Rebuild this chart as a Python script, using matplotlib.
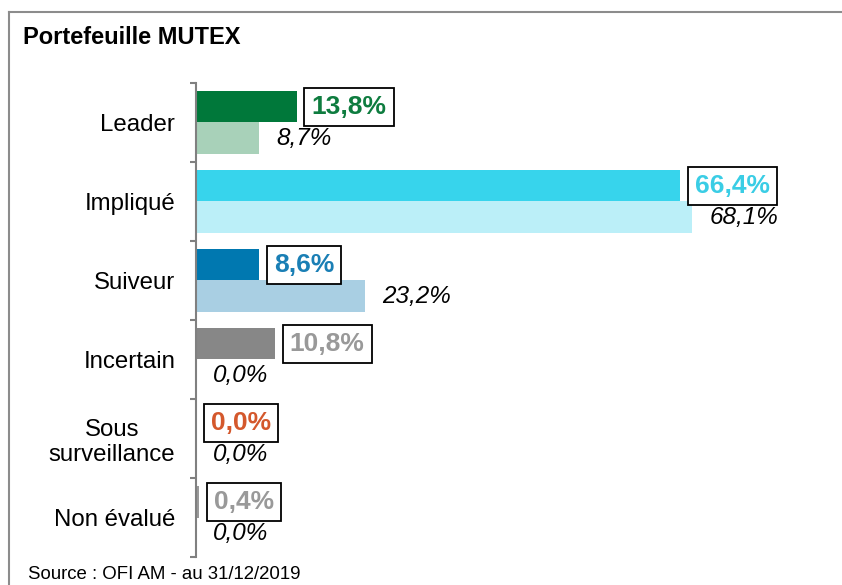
import matplotlib.pyplot as plt
from matplotlib import transforms
from matplotlib.lines import Line2D

categories = ["Leader", "Impliqué", "Suiveur", "Incertain", "Sous\nsurveillance", "Non évalué"]
portfolio = [13.8, 66.4, 8.6, 10.8, 0.0, 0.4]
benchmark = [8.7, 68.1, 23.2, 0.0, 0.0, 0.0]

dark_colors = ["#00783A", "#37D4EC", "#0078B0", "#878787", "#D4582C", "#999999"]
light_colors = ["#A8D1B9", "#BBEFF8", "#A9CFE3", "#D0D0D0", "#F0C0B0", "#D0D0D0"]
label_colors = ["#0E7C3F", "#3ACDE5", "#1A7FB5", "#999999", "#D4582C", "#999999"]

title = "Portefeuille MUTEX"
source = "Source : OFI AM - au 31/12/2019"


def fmt(v):
    return f"{v:.1f}".replace(".", ",") + "%"


def main():
    plt.rcParams["font.family"] = ["Liberation Sans", "DejaVu Sans"]
    W, H = 842, 585
    fig = plt.figure(figsize=(W / 100, H / 100), dpi=100)
    ax = fig.add_axes([196 / W, 28 / H, (W - 196) / W, 474 / H])

    n = len(categories)
    pos_dark = [i + 0.3 for i in range(n)]
    pos_light = [i + 0.7 for i in range(n)]

    ax.barh(pos_dark, portfolio, height=0.4, color=dark_colors, linewidth=0)
    ax.barh(pos_light, benchmark, height=0.4, color=light_colors, linewidth=0)

    ax.set_xlim(0, (W - 196) / 7.29)
    ax.set_ylim(n, 0)

    # boxed bold labels for the portfolio, italic labels for the benchmark
    off_dark = transforms.offset_copy(ax.transData, fig, x=15, y=0, units="dots")
    off_light = transforms.offset_copy(ax.transData, fig, x=17, y=0, units="dots")
    for y, v, c in zip(pos_dark, portfolio, label_colors):
        ax.text(v, y, fmt(v), transform=off_dark, ha="left", va="center",
                fontsize=19, fontweight="bold", color=c,
                bbox=dict(boxstyle="square,pad=0.27", fc="white", ec="black", lw=1.3))
    for y, v in zip(pos_light, benchmark):
        ax.text(v, y, fmt(v), transform=off_light, ha="left", va="center",
                fontsize=17.5, fontstyle="italic", color="black")

    for s in ["top", "right", "bottom"]:
        ax.spines[s].set_visible(False)
    ax.spines["left"].set_color("#808080")
    ax.spines["left"].set_linewidth(1.5)
    ax.set_xticks([])
    ax.set_yticks(range(n + 1))
    ax.set_yticklabels([])
    ax.tick_params(axis="y", which="major", length=4.5, width=1.5, color="#808080")
    ax.set_yticks([i + 0.5 for i in range(n)], minor=True)
    ax.set_yticklabels(categories, minor=True, fontsize=17.3)
    ax.tick_params(axis="y", which="minor", length=0, pad=15)
    for lab in ax.get_yticklabels(minor=True):
        lab.set_multialignment("center")

    # frame around the panel
    fig.add_artist(Line2D([9 / W, 1], [(H - 12) / H] * 2, transform=fig.transFigure,
                          color="#8C8C8C", lw=1.5))
    fig.add_artist(Line2D([9 / W] * 2, [0, (H - 12) / H], transform=fig.transFigure,
                          color="#8C8C8C", lw=1.5))

    fig.text(23 / W, (H - 38) / H, title, fontsize=17, fontweight="bold", va="center")
    fig.text(28 / W, 2 / H, source, fontsize=13.4, va="bottom")

    fig.savefig("out.png", dpi=100)
    plt.close(fig)


if __name__ == "__main__":
    main()
